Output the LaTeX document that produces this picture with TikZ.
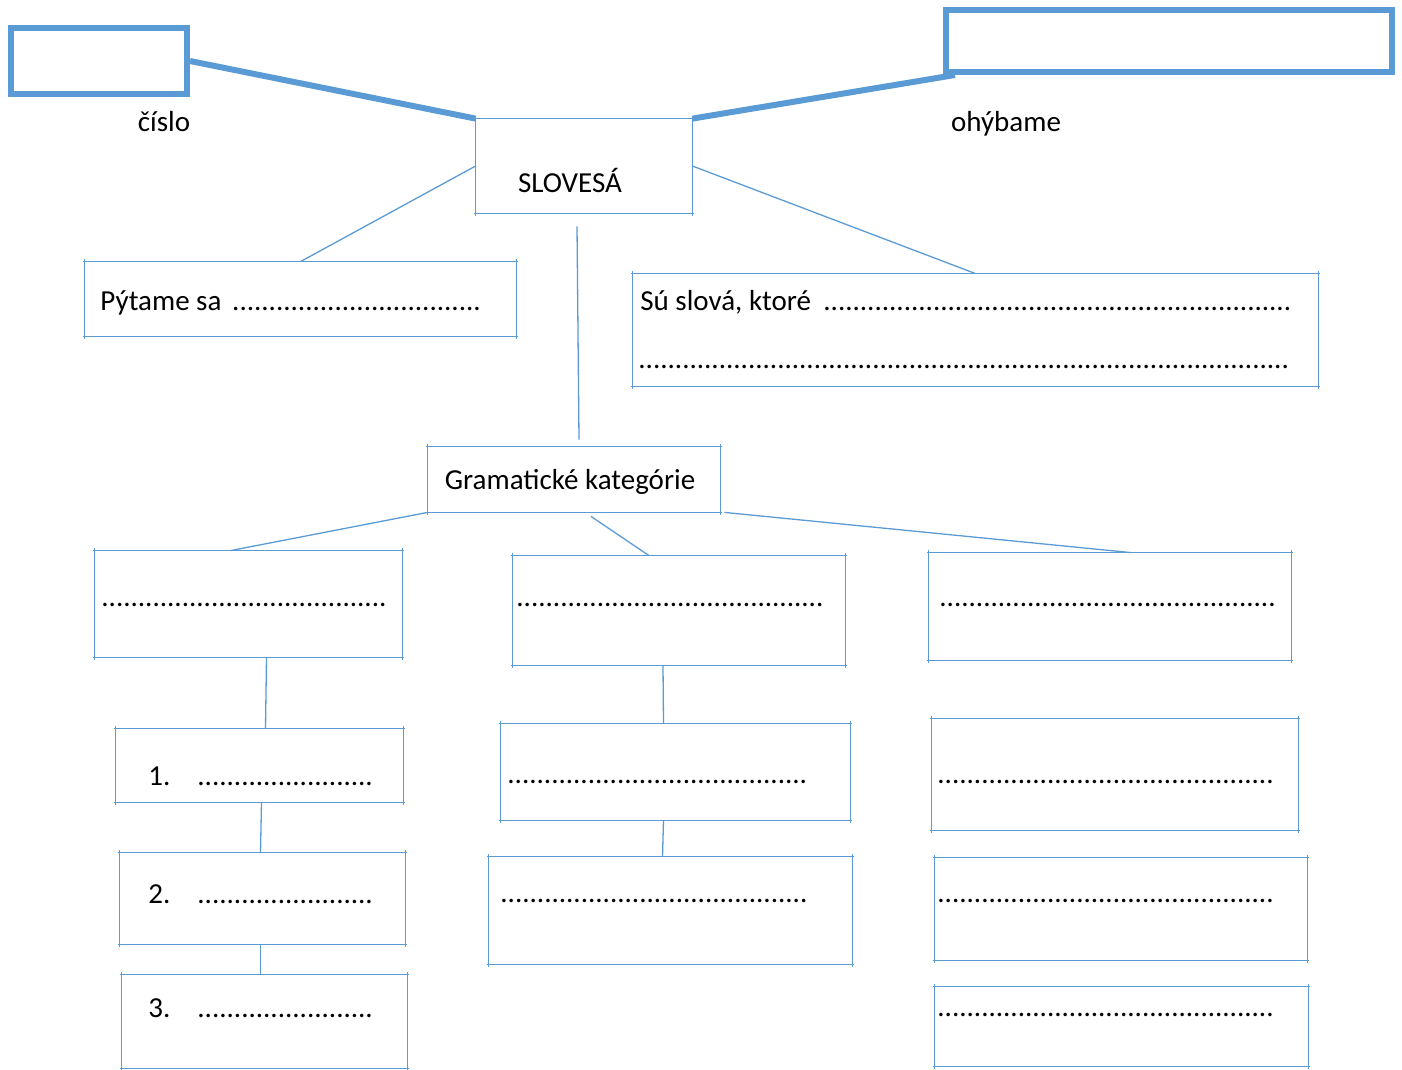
\documentclass[tikz,border=0pt]{standalone}
\usepackage{fontspec}
\setmainfont{Carlito}
\usetikzlibrary{positioning}
\definecolor{wordblue}{HTML}{5B9BD5}

\tikzset{
  edge/.style={wordblue, line width=0.65pt},
  heavy edge/.style={wordblue, line width=3pt},
  box/.style={draw=none, inner sep=0pt},
  heavybox/.style={draw=wordblue, line width=3pt, inner sep=0pt},
  txt/.style={anchor=base west, inner sep=0pt, font=\fontsize{14.5}{17}\selectfont},
  ctxt/.style={txt, anchor=base},
}
% box edges drawn one by one, a bit past the corners
\newcommand\sketchbox[1]{%
  \draw[edge] ([xshift=-1pt]#1.north west) -- ([xshift=1pt]#1.north east);
  \draw[edge] ([xshift=-1pt]#1.south west) -- ([xshift=1pt]#1.south east);
  \draw[edge] ([yshift=1.5pt]#1.north west) -- ([yshift=-1.5pt]#1.south west);
  \draw[edge] ([yshift=1.5pt]#1.north east) -- ([yshift=-1.5pt]#1.south east);}
\newcommand\dotrow[2]{\hbox to #1{#2\leaders\hbox{.}\hfill}}

\begin{document}
\begin{tikzpicture}[x=0.5pt,y=-0.5pt]
      \useasboundingbox (0,0) rectangle (1402,1070);

      % top
      \node[heavybox, minimum width=88pt, minimum height=33pt] (cislo) at (99,61) {};
      \node[heavybox, minimum width=223pt, minimum height=31pt] (ohyb) at (1169,41) {};
      \node[ctxt] (cislolab) at (164,132) {číslo};
      \node[ctxt] (ohyblab) at (1006,132) {ohýbame};

      \node[box, minimum width=108pt, minimum height=47pt] (slov) at (584,166) {};
      \node[ctxt] (slovlab) at (570,192) {SLOVESÁ};
      \sketchbox{slov}

      \draw[heavy edge] (cislo.east) -- (slov.north west);
      \draw[heavy edge] (slov.north east) -- ([xshift=6pt]ohyb.south west);

      \node[box, minimum width=215.5pt, minimum height=37pt] (pyt) at (300.5,299) {};
      \node[txt] (pytlab) at (100,310) {\dotrow{193.5pt}{Pýtame sa }};
      \sketchbox{pyt}

      \node[box, minimum width=342.5pt, minimum height=56pt] (su) at (975.5,330) {};
      \node[txt] (sulab) at (640,310) {\dotrow{326.5pt}{Sú slová, ktoré }};
      \node[txt] (sudots) at (638,368) {\dotrow{328.5pt}{}};
      \sketchbox{su}

      \draw[edge] (slov.west) -- (pyt.north);
      \draw[edge] (slov.east) -- (su.north);

      % kategorie
      \node[box, minimum width=146pt, minimum height=32.5pt] (gram) at (574,479.5) {};
      \node[ctxt] (gramlab) at (570,489) {Gramatické kategórie};
      \sketchbox{gram}
      \draw[edge] ([xshift=-3.5pt,yshift=-6.5pt]slov.south) -- ([xshift=2.5pt,yshift=3.5pt]gram.north);

      \node[box, minimum width=153.5pt, minimum height=53pt] (katA) at (248.5,604) {};
      \node[box, minimum width=166pt, minimum height=54.5pt] (katB) at (679,610.5) {};
      \node[box, minimum width=181pt, minimum height=53.5pt] (katC) at (1110,606.5) {};
      \node[txt] (dotsA) at (101,606) {\dotrow{143.5pt}{}};
      \node[txt] (dotsB) at (516,606) {\dotrow{155pt}{}};
      \node[txt] (dotsC) at (939,606) {\dotrow{170pt}{}};
      \sketchbox{katA}
      \sketchbox{katB}
      \sketchbox{katC}

      \draw[edge] (gram.south west) -- ([xshift=-9pt]katA.north);
      \draw[edge] ([xshift=8.5pt,yshift=-2pt]gram.south) -- ([xshift=-15pt]katB.north);
      \draw[edge] ([xshift=2pt]gram.south east) -- ([xshift=10.5pt]katC.north);

      % left column
      \node[box, minimum width=143.5pt, minimum height=36.5pt] (left1) at (259.5,765.5) {};
      \node[box, minimum width=142.5pt, minimum height=45.5pt] (left2) at (262.5,898.5) {};
      \node[box, minimum width=142.5pt, minimum height=46.5pt] (left3) at (264.5,1021.5) {};
      \node[txt] (num1) at (148,785) {1.};
      \node[txt] (num2) at (148,903) {2.};
      \node[txt] (num3) at (148,1017) {3.};
      \node[txt] (dots1) at (197,785) {\dotrow{88pt}{}};
      \node[txt] (dots2) at (197,903) {\dotrow{88pt}{}};
      \node[txt] (dots3) at (197,1017) {\dotrow{88pt}{}};
      \sketchbox{left1}
      \sketchbox{left2}
      \sketchbox{left3}
      \draw[edge] ([xshift=9pt]katA.south) -- ([xshift=3pt]left1.north);
      \draw[edge] ([xshift=1pt]left1.south) -- ([xshift=-1pt]left2.north);
      \draw[edge] ([xshift=-1pt]left2.south) -- ([xshift=-2pt]left3.north);

      % middle column
      \node[box, minimum width=174.5pt, minimum height=48pt] (mid1) at (675.5,772) {};
      \node[box, minimum width=181.5pt, minimum height=53.5pt] (mid2) at (670.5,910.5) {};
      \node[txt] (dotsM1) at (507,783) {\dotrow{151pt}{}};
      \node[txt] (dotsM2) at (500,902) {\dotrow{155.5pt}{}};
      \sketchbox{mid1}
      \sketchbox{mid2}
      \draw[edge] ([xshift=-8pt]katB.south) -- ([xshift=-6pt]mid1.north);
      \draw[edge] ([xshift=-6pt]mid1.south) -- ([xshift=-4pt]mid2.north);

      % right column
      \node[box, minimum width=183pt, minimum height=55.5pt] (right1) at (1115,774.5) {};
      \node[box, minimum width=186pt, minimum height=51pt] (right2) at (1121,909) {};
      \node[box, minimum width=186.5pt, minimum height=39.5pt] (right3) at (1121.5,1026.5) {};
      \node[txt] (dotsR1) at (937,783) {\dotrow{169.5pt}{}};
      \node[txt] (dotsR2) at (937,902) {\dotrow{170pt}{}};
      \node[txt] (dotsR3) at (937,1016) {\dotrow{170.5pt}{}};
      \sketchbox{right1}
      \sketchbox{right2}
      \sketchbox{right3}

\end{tikzpicture}
\end{document}
